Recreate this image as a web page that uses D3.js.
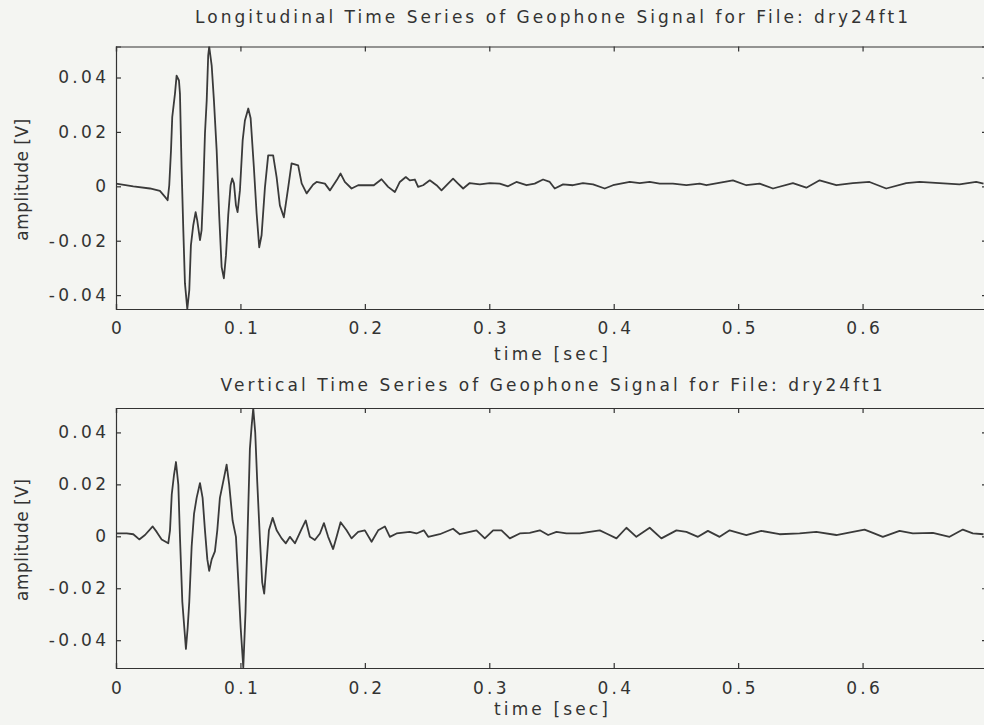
<!DOCTYPE html>
<html>
<head>
<script src="https://cdn.jsdelivr.net/npm/d3@7"></script>
<style type="text/css">
	body { margin: 0; background: #f4f5f2; }
	text { font-family: "DejaVu Sans", Arial, sans-serif; fill: #333; }
</style>
</head>
<body>
<script>

// longitudinal geophone trace (time in s, amplitude in V)
var longTime = [0.0000, 0.0139, 0.0273, 0.0353, 0.0394, 0.0415, 0.0428, 0.0442, 0.0452, 0.0474,
	0.0487, 0.0506, 0.0514, 0.0527, 0.0541, 0.0554, 0.0573, 0.0589, 0.0602, 0.0621,
	0.0640, 0.0653, 0.0675, 0.0688, 0.0701, 0.0715, 0.0729, 0.0741, 0.0749, 0.0769,
	0.0787, 0.0809, 0.0830, 0.0849, 0.0867, 0.0884, 0.0902, 0.0921, 0.0934, 0.0948,
	0.0964, 0.0977, 0.0996, 0.1018, 0.1036, 0.1063, 0.1082, 0.1108, 0.1130, 0.1151,
	0.1170, 0.1197, 0.1223, 0.1263, 0.1291, 0.1317, 0.1349, 0.1384, 0.1411, 0.1464,
	0.1492, 0.1532, 0.1585, 0.1612, 0.1679, 0.1719, 0.1773, 0.1805, 0.1839, 0.1893,
	0.1946, 0.2013, 0.2072, 0.2134, 0.2187, 0.2241, 0.2281, 0.2329, 0.2361, 0.2402,
	0.2428, 0.2468, 0.2522, 0.2576, 0.2616, 0.2669, 0.2709, 0.2749, 0.2790, 0.2843,
	0.2924, 0.3004, 0.3084, 0.3151, 0.3218, 0.3299, 0.3365, 0.3432, 0.3486, 0.3526,
	0.3593, 0.3673, 0.3753, 0.3834, 0.3928, 0.3994, 0.4129, 0.4209, 0.4289, 0.4369,
	0.4476, 0.4584, 0.4691, 0.4745, 0.4958, 0.5066, 0.5173, 0.5280, 0.5440, 0.5548,
	0.5655, 0.5789, 0.5922, 0.6056, 0.6190, 0.6351, 0.6458, 0.6618, 0.6779, 0.6913, 0.6972];
var longAmp = [0.0010, 0.0000, -0.0008, -0.0017, -0.0039, -0.0051, 0.0004, 0.0132, 0.0254, 0.0341,
	0.0407, 0.0389, 0.0341, 0.0070, -0.0161, -0.0356, -0.0451, -0.0382, -0.0217, -0.0143,
	-0.0095, -0.0125, -0.0198, -0.0161, -0.0015, 0.0194, 0.0316, 0.0481, 0.0514, 0.0444,
	0.0316, 0.0132, -0.0114, -0.0297, -0.0338, -0.0253, -0.0106, 0.0004, 0.0029, 0.0011,
	-0.0070, -0.0095, -0.0015, 0.0169, 0.0242, 0.0286, 0.0250, 0.0070, -0.0099, -0.0224,
	-0.0180, -0.0004, 0.0114, 0.0114, 0.0033, -0.0070, -0.0114, -0.0004, 0.0084, 0.0077,
	0.0011, -0.0026, 0.0007, 0.0016, 0.0010, -0.0015, 0.0022, 0.0047, 0.0016, -0.0008,
	0.0004, 0.0004, 0.0004, 0.0026, -0.0002, -0.0021, 0.0016, 0.0034, 0.0022, 0.0025,
	-0.0002, 0.0004, 0.0022, 0.0004, -0.0015, 0.0010, 0.0028, 0.0010, -0.0008, 0.0012,
	0.0007, 0.0012, 0.0010, 0.0000, 0.0016, 0.0004, 0.0010, 0.0025, 0.0016, -0.0008,
	0.0007, 0.0004, 0.0012, 0.0007, -0.0008, 0.0004, 0.0016, 0.0012, 0.0016, 0.0010,
	0.0010, 0.0004, 0.0010, 0.0004, 0.0022, 0.0004, 0.0010, -0.0008, 0.0012, -0.0005,
	0.0022, 0.0004, 0.0012, 0.0016, -0.0008, 0.0012, 0.0016, 0.0012, 0.0007, 0.0016, 0.0010];

// vertical geophone trace
var vertTime = [0.0000, 0.0086, 0.0139, 0.0187, 0.0233, 0.0295, 0.0327, 0.0367, 0.0420, 0.0434,
	0.0448, 0.0466, 0.0482, 0.0501, 0.0514, 0.0533, 0.0549, 0.0562, 0.0576, 0.0589,
	0.0608, 0.0627, 0.0648, 0.0675, 0.0696, 0.0715, 0.0734, 0.0749, 0.0769, 0.0795,
	0.0814, 0.0835, 0.0867, 0.0889, 0.0910, 0.0937, 0.0964, 0.0982, 0.1002, 0.1023,
	0.1041, 0.1058, 0.1076, 0.1090, 0.1103, 0.1119, 0.1135, 0.1157, 0.1175, 0.1191,
	0.1210, 0.1229, 0.1259, 0.1291, 0.1331, 0.1365, 0.1398, 0.1438, 0.1492, 0.1525,
	0.1558, 0.1598, 0.1639, 0.1671, 0.1705, 0.1745, 0.1773, 0.1805, 0.1853, 0.1893,
	0.1946, 0.2000, 0.2054, 0.2107, 0.2161, 0.2201, 0.2255, 0.2361, 0.2415, 0.2474,
	0.2509, 0.2602, 0.2709, 0.2763, 0.2843, 0.2897, 0.2964, 0.3031, 0.3098, 0.3165,
	0.3245, 0.3325, 0.3406, 0.3473, 0.3540, 0.3620, 0.3727, 0.3807, 0.3888, 0.3941,
	0.4022, 0.4102, 0.4182, 0.4289, 0.4383, 0.4504, 0.4584, 0.4677, 0.4757, 0.4851,
	0.4932, 0.5066, 0.5186, 0.5333, 0.5494, 0.5628, 0.5789, 0.5922, 0.6016, 0.6083,
	0.6163, 0.6297, 0.6404, 0.6565, 0.6699, 0.6806, 0.6886, 0.6972];
var vertAmp = [0.0011, 0.0011, 0.0008, -0.0012, 0.0005, 0.0038, 0.0017, -0.0012, -0.0027, 0.0023,
	0.0161, 0.0236, 0.0286, 0.0198, -0.0002, -0.0252, -0.0352, -0.0434, -0.0352, -0.0252,
	-0.0039, 0.0086, 0.0148, 0.0205, 0.0148, 0.0023, -0.0089, -0.0133, -0.0089, -0.0058,
	0.0023, 0.0148, 0.0223, 0.0276, 0.0198, 0.0061, -0.0002, -0.0165, -0.0352, -0.0505,
	-0.0290, 0.0023, 0.0336, 0.0424, 0.0493, 0.0399, 0.0211, -0.0014, -0.0177, -0.0221,
	-0.0102, 0.0023, 0.0071, 0.0023, -0.0008, -0.0027, -0.0002, -0.0027, 0.0029, 0.0061,
	-0.0002, -0.0014, 0.0011, 0.0051, -0.0002, -0.0049, -0.0002, 0.0054, 0.0023, -0.0008,
	0.0017, 0.0023, -0.0021, 0.0023, 0.0038, -0.0002, 0.0011, 0.0017, 0.0011, 0.0023,
	-0.0002, 0.0008, 0.0029, 0.0008, 0.0017, 0.0023, -0.0008, 0.0023, 0.0023, -0.0008,
	0.0011, 0.0013, 0.0023, 0.0005, 0.0017, 0.0011, 0.0011, 0.0017, 0.0023, 0.0011,
	-0.0008, 0.0033, -0.0002, 0.0033, -0.0008, 0.0023, 0.0017, -0.0002, 0.0021, -0.0002,
	0.0023, 0.0005, 0.0021, 0.0008, 0.0011, 0.0017, 0.0005, 0.0017, 0.0026, 0.0013,
	-0.0002, 0.0021, 0.0011, 0.0013, -0.0002, 0.0026, 0.0011, 0.0008];

var xTicks = [0, 0.1, 0.2, 0.3, 0.4, 0.5, 0.6, 0.7];
var xTickLabels = ["0", "0.1", "0.2", "0.3", "0.4", "0.5", "0.6", ""];   // 0.7 falls off the page
var yTicks = [-0.04, -0.02, 0, 0.02, 0.04];
var yTickLabels = ["-0.04", "-0.02", "0", "0.02", "0.04"];
var titles = ["Longitudinal Time Series of Geophone Signal for File: dry24ft1",
	"Vertical Time Series of Geophone Signal for File: dry24ft1"];
var xLabel = "time [sec]";
var yLabel = "amplitude [V]";

var canvas = d3.select("body").append("svg")
	.attr("width", 984)
	.attr("height", 725);

var x = d3.scaleLinear().domain([0, 0.7]).range([116, 987]);

var panels = [
	{ title: titles[0], t: longTime, v: longAmp, top: 46.5, bottom: 309, yDomain: [-0.0451, 0.0514], titleY: 23, titleLen: 713, xLabelY: 360, pad: 14 },
	{ title: titles[1], t: vertTime, v: vertAmp, top: 408, bottom: 668, yDomain: [-0.0507, 0.0494], titleY: 391, titleLen: 662, xLabelY: 715, pad: 15 }
];

panels.forEach(function (p, i) {
	var y = d3.scaleLinear().domain(p.yDomain).range([p.bottom, p.top]);
	var g = canvas.append("g");

	g.append("clipPath").attr("id", "clip" + i)
		.append("rect")
		.attr("x", x.range()[0]).attr("y", p.top)
		.attr("width", x.range()[1] - x.range()[0]).attr("height", p.bottom - p.top);

	var pts = p.t.map(function (t, k) { return [t, p.v[k]]; });
	var line = d3.line().x(function (d) { return x(d[0]); }).y(function (d) { return y(d[1]); });

	g.append("path")
		.datum(pts)
		.attr("clip-path", "url(#clip" + i + ")")
		.attr("d", line)
		.attr("fill", "none")
		.attr("stroke", "#3a3a3a")
		.attr("stroke-width", 1.8)
		.attr("stroke-linejoin", "round");

	// axes, ticks pointing inward like matlab
	var bottomAxis = g.append("g").attr("transform", "translate(0," + p.bottom + ")")
		.call(d3.axisBottom(x).tickValues(xTicks).tickSize(-5).tickPadding(p.pad - 1)
			.tickFormat(function (d, k) { return xTickLabels[k]; }));
	g.append("g").attr("transform", "translate(0," + p.top + ")")
		.call(d3.axisTop(x).tickValues(xTicks).tickSize(-5).tickFormat(""));
	var leftAxis = g.append("g").attr("transform", "translate(" + x.range()[0] + ",0)")
		.call(d3.axisLeft(y).tickValues(yTicks).tickSize(-5).tickPadding(10)
			.tickFormat(function (d, k) { return yTickLabels[k]; }));
	g.append("g").attr("transform", "translate(" + x.range()[1] + ",0)")
		.call(d3.axisRight(y).tickValues(yTicks).tickSize(-5).tickFormat(""));

	g.selectAll(".domain").attr("stroke", "#333").attr("stroke-width", 1.2);
	g.selectAll(".tick line").attr("stroke", "#333").attr("stroke-width", 1.2);
	g.selectAll(".tick text")
		.style("font-family", "'DejaVu Sans', Arial, sans-serif")
		.style("font-size", "17px")
		.style("letter-spacing", "3.3px")
		.attr("fill", "#333");
	bottomAxis.selectAll(".tick text").attr("dx", 1.65);
	leftAxis.selectAll(".tick text").attr("dx", 3.3);

	g.append("text")
		.attr("x", 551.5).attr("y", p.titleY)
		.attr("text-anchor", "middle")
		.attr("textLength", p.titleLen)
		.style("font-size", "17px")
		.text(p.title);

	g.append("text")
		.attr("x", 551).attr("y", p.xLabelY)
		.attr("text-anchor", "middle")
		.attr("textLength", 114)
		.style("font-size", "17px")
		.text(xLabel);

	g.append("text")
		.attr("transform", "translate(28," + ((p.top + p.bottom) / 2 + 2) + ") rotate(-90)")
		.attr("text-anchor", "middle")
		.attr("textLength", 122)
		.style("font-size", "17px")
		.text(yLabel);
});

</script>
</body>
</html>
